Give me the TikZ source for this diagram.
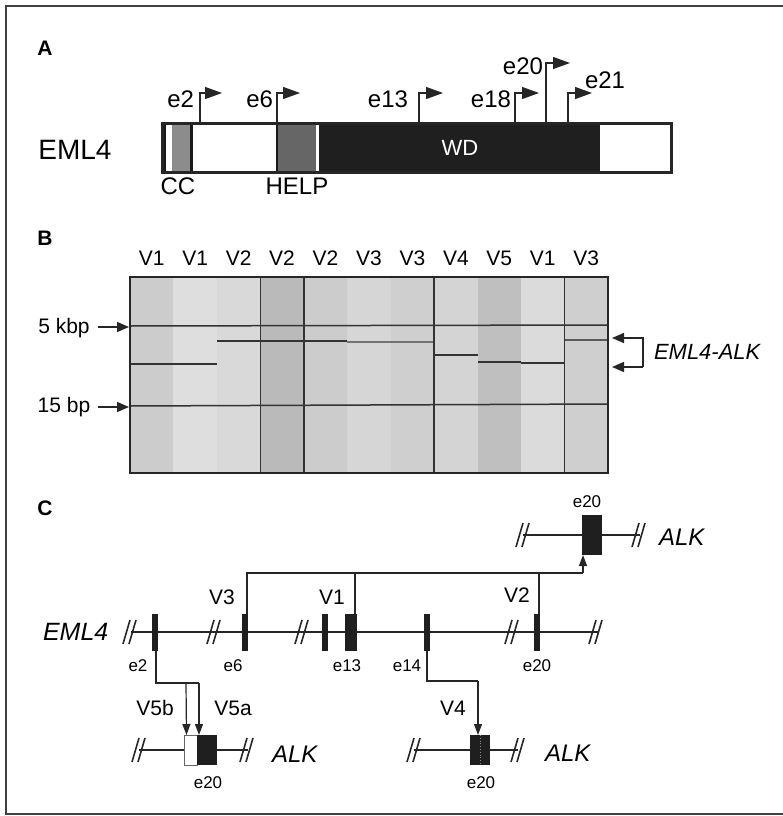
\documentclass[tikz,border=0pt]{standalone}
\usepackage{fontspec}
\setmainfont{Liberation Sans}
\usetikzlibrary{arrows.meta}
\tikzset{
  fs/.style={font=\fontsize{#1}{#1}\selectfont},
  panellbl/.style={font=\fontsize{21}{21}\selectfont\bfseries},
  prom/.style={line width=1.3pt, black!85, -{Triangle[length=17pt,width=12pt]}},
  conn/.style={line width=1.2pt, black!85},
  carr/.style={line width=1.2pt, black!85, -{Triangle[length=11pt,width=8pt]}},
  marr/.style={line width=1.6pt, black!85, -{Triangle[length=12pt,width=10pt]}},
  gene/.style={line width=2pt, black!85},
  band/.style={line width=1.5pt, black!80},
  exon/.style={fill=black!88, inner sep=0pt, minimum height=37pt},
  brk/.pic={\draw[line width=1.6pt, black!85] (-8,12) -- (-1,-12) (-2,12) -- (5,-12);}
}
\begin{document}
\begin{tikzpicture}[x=1pt,y=-1pt, every node/.style={inner sep=0pt, outer sep=0pt}]
\useasboundingbox (0,0) rectangle (783,816);
% frame
\draw[line width=1.6pt, black!75] (790,6) -- (6,6) -- (6,814) -- (790,814);

% ---------- Panel A ----------
\node[panellbl] (lA) at (45,48) {A};
\node[fs=28] (emlA) at (75,150) {EML4};
\fill[white] (162,123) rectangle (671,172);
\fill[black!45] (172,123) rectangle (190,172);
\fill[black!90] (190,123) rectangle (193,172);
\fill[black!90] (276,123) rectangle (278,172);
\fill[black!60] (278,123) rectangle (316,172);
\fill[black!88] (319,123) rectangle (600,172);
\fill[black!90] (162,123) rectangle (166,172);
\node[draw=black!85, line width=3pt, minimum width=509pt, minimum height=49pt] (bar) at (416.5,147.5) {};
\node[fs=22, white] (wd) at (460,148) {WD};
\node[fs=24, anchor=north] (cc) at (178,178) {CC};
\node[fs=24, anchor=north] (help) at (297,178) {HELP};

\coordinate (p2) at (200,123);
\coordinate (p6) at (277,123);
\coordinate (p13) at (419,123);
\coordinate (p18) at (515,123);
\coordinate (p20) at (546,123);
\coordinate (p21) at (568,123);
\draw[prom] (p2) -- ++(0,-30) -- ++(22,0);
\draw[prom] (p6) -- ++(0,-30) -- ++(23,0);
\draw[prom] (p13) -- ++(0,-30) -- ++(24,0);
\draw[prom] (p18) -- ++(0,-30) -- ++(24,0);
\draw[prom] (p20) -- ++(0,-60) -- ++(24,0);
\draw[prom] (p21) -- ++(0,-30) -- ++(24,0);
\node[fs=24, anchor=east] (le2) at (194,99) {e2};
\node[fs=24, anchor=east] (le6) at (273,99) {e6};
\node[fs=24, anchor=east] (le13) at (408,99) {e13};
\node[fs=24, anchor=east] (le18) at (511,99) {e18};
\node[fs=24, anchor=east] (le20) at (543,66) {e20};
\node[fs=24, anchor=west] (le21) at (585,80) {e21};

% ---------- Panel B ----------
\node[panellbl] (lB) at (45,238) {B};
\foreach \i/\c in {0/20,1/13,2/15,3/27,4/20,5/16,6/19,7/17,8/25,9/14,10/19}{
  \fill[black!\c] ({130+\i*43.45},277) rectangle ({130+(\i+1)*43.45},473);
}
\foreach \i/\t in {0/V1,1/V1,2/V2,3/V2,4/V2,5/V3,6/V3,7/V4,8/V5,9/V1,10/V3}{
  \node[fs=21] (gl\i) at ({151.7+\i*43.45},258) {\t};
}
% bands
\draw[band] (130,326) -- (608,325);
\draw[band] (130,406) -- (608,404);
\draw[band, line width=1.3pt] (130,364) -- (217,364);
\draw[band] (217,341) -- (347,341);
\draw[band, black!55] (347,342) -- (434,342);
\draw[band] (434,355) -- (478,355);
\draw[band] (478,362) -- (521,362);
\draw[band] (521,363) -- (565,363);
\draw[band, black!65] (565,340) -- (608,340);
% separators
\foreach \k in {3,4,7,10}{
  \draw[line width=1.6pt, black!80] ({130+\k*43.45},277) -- ({130+\k*43.45},473);
}
\node[draw=black!85, line width=2pt, minimum width=478pt, minimum height=196pt] (gel) at (369,375) {};
\node[fs=21] (k5) at (64,328) {5 kbp};
\node[fs=21] (b15) at (64,407) {15 bp};
\coordinate (k5t) at (129,327);
\coordinate (b15t) at (129,407);
\draw[marr] ([xshift=8pt]k5.east |- k5t) -- (k5t);
\draw[marr] ([xshift=8pt]b15.east |- b15t) -- (b15t);
\coordinate (br1) at (643,338);
\coordinate (br2) at (643,367);
\coordinate (bt1) at (612,338);
\coordinate (bt2) at (612,367);
\draw[marr] (br2) -- (br1) -- (bt1);
\draw[marr] (br2) -- (bt2);
\node[fs=22, anchor=west, font=\fontsize{22}{22}\selectfont\itshape] (ea) at (654,352) {EML4-ALK};

% ---------- Panel C ----------
\node[panellbl] (lC) at (45,508) {C};
% top ALK
\draw[gene] (523,535) -- (640,535);
\pic at (524,535) {brk};
\pic at (640,535) {brk};
\node[exon, minimum width=20pt, minimum height=40pt] (alk1) at (592,535) {};
\node[fs=17] (ae1) at (587,502) {e20};
\node[anchor=west, font=\fontsize{24}{24}\selectfont\itshape] (alkt1) at (659,537) {ALK};

% EML4 gene
\draw[gene] (131,632) -- (598,632);
\foreach \x in {131,215,303,513,597}{ \pic at (\x,632) {brk}; }
\node[exon, minimum width=6pt] (x2) at (155,632) {};
\node[exon, minimum width=6pt] (x6) at (245,632) {};
\node[exon, minimum width=6pt] (x12) at (325,632) {};
\node[exon, minimum width=12pt] (x13) at (351,632) {};
\node[exon, minimum width=6pt] (x14) at (427,632) {};
\node[exon, minimum width=6pt] (x20) at (537,632) {};
\node[anchor=west, font=\fontsize{25}{25}\selectfont\itshape] (emlC) at (43,632) {EML4};
\node[fs=17] (lx2) at (138,666) {e2};
\node[fs=17] (lx6) at (233,666) {e6};
\node[fs=17] (lx13) at (347,666) {e13};
\node[fs=17] (lx14) at (407,666) {e14};
\node[fs=17] (lx20) at (537,666) {e20};

% connectors to top ALK
\coordinate (hj) at (583,573);
\draw[conn] ([xshift=2pt]x6.north) |- (hj);
\draw[conn] ([xshift=4pt]x13.north) -- ++(0,-40);
\draw[conn] ([xshift=2pt]x20.north) -- ++(0,-40);
\draw[carr] (hj) -- ([xshift=1pt]alk1.south west);
\node[fs=21] (v3) at (222,597) {V3};
\node[fs=21] (v1) at (332,597) {V1};
\node[fs=21] (v2) at (517,595) {V2};

% bottom-left ALK
\draw[gene] (139,750) -- (248,750);
\pic at (140,750) {brk};
\pic at (248,750) {brk};
\node[fill=white, draw=black!60, line width=0.6pt, minimum width=13pt, minimum height=30pt] (alkw) at (191,750) {};
\node[exon, minimum width=20pt, minimum height=30pt] (alk2) at (207,750) {};
\node[fs=17] (ae2) at (208,783) {e20};
\node[anchor=west, font=\fontsize{24}{24}\selectfont\itshape] (alkt2) at (272,754) {ALK};
\coordinate (v5aj) at (199,683);
\coordinate (v5bj) at (186,683);
\draw[conn] ([xshift=1pt]x2.south) |- (v5aj);
\draw[carr] (v5aj) -- ([xshift=2pt]alk2.north west);
\draw[carr] (v5bj) -- ([xshift=2pt]alkw.north west);
\node[fs=21] (v5b) at (155,708) {V5b};
\node[fs=21] (v5a) at (233,708) {V5a};

% bottom-right ALK
\draw[gene] (414,750) -- (518,750);
\pic at (415,750) {brk};
\pic at (519,750) {brk};
\node[exon, minimum width=20pt, minimum height=30pt] (alk3) at (480,750) {};
\draw[black!45, line width=0.8pt, dotted] (alk3.north) -- (alk3.south);
\node[fs=17] (ae3) at (481,783) {e20};
\node[anchor=west, font=\fontsize{24}{24}\selectfont\itshape] (alkt3) at (545,753) {ALK};
\coordinate (v4j) at (478,681);
\draw[conn] (x14.south) |- (v4j);
\draw[carr] (v4j) -- (v4j |- alk3.north);
\node[fs=21] (v4) at (453,708) {V4};
\end{tikzpicture}
\end{document}
